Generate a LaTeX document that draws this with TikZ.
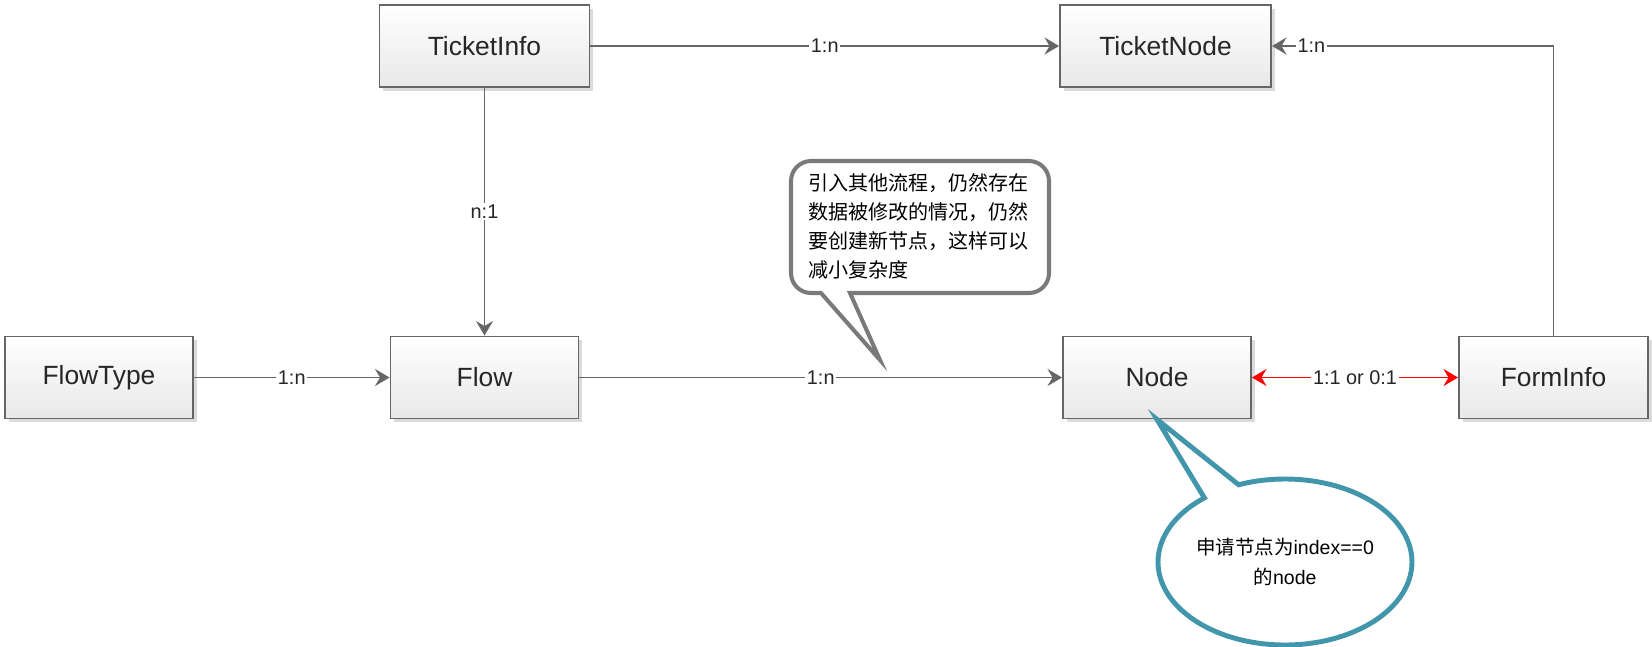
\documentclass[tikz,border=0pt]{standalone}
\usepackage{fontspec}
\setmainfont{Liberation Sans}
\newfontfamily\cjk{Noto Sans CJK SC}
\usetikzlibrary{positioning,arrows.meta,shadows,shapes.callouts}
\definecolor{boxline}{HTML}{666666}
\definecolor{noteline}{HTML}{7A7A7A}
\definecolor{bubbleteal}{RGB}{66,150,171}
\tikzset{
  entity/.style={rectangle, draw=boxline, line width=1.1pt, top color=white, bottom color=black!9,
    minimum height=1.64cm, inner sep=0pt, font=\fontsize{15}{18}\selectfont, text=black!85,
    drop shadow={shadow xshift=0.07cm, shadow yshift=-0.07cm, fill=black!14, opacity=1}},
  rel/.style={draw=boxline, line width=1.1pt, -{Stealth[length=2.9mm, width=3.4mm, inset=1mm]}},
  both/.style={draw=red, line width=1.1pt,
    {Stealth[length=2.9mm, width=3.4mm, inset=1mm]}-{Stealth[length=2.9mm, width=3.4mm, inset=1mm]}},
  lbl/.style={fill=white, inner sep=1pt, text=black!85, font=\fontsize{11.3}{13}\selectfont},
  note/.style={draw=noteline, line width=2.3pt, fill=white},
  bubble/.style={ellipse callout, draw=bubbleteal, line width=2.8pt, fill=white, inner sep=0pt,
    minimum width=5.08cm, minimum height=3.32cm, callout pointer arc=18, align=center,
    font=\fontsize{11.1}{17}\selectfont}
}

\begin{document}
\begin{tikzpicture}
  \useasboundingbox (0,0) rectangle (33.04,-12.92);

  % Entities
  \node[entity, minimum width=4.2cm] (ticketInfo) at (9.69,-0.92) {TicketInfo};
  \node[entity, minimum width=4.22cm] (ticketNode) at (23.31,-0.92) {TicketNode};
  \node[entity, minimum width=3.76cm] (flowType) at (1.98,-7.55) {FlowType};
  \node[entity, minimum width=3.76cm] (flow) at (9.69,-7.55) {Flow};
  \node[entity, minimum width=3.76cm] (flowNode) at (23.14,-7.55) {Node};
  \node[entity, minimum width=3.78cm] (formInfo) at (31.07,-7.55) {FormInfo};

  % Relations
  \foreach \from/\to/\card in {ticketInfo/ticketNode/1:n, ticketInfo/flow/n:1,
                               flowType/flow/1:n, flow/flowNode/1:n}{
    \draw[rel] (\from) -- node[lbl] {\card} (\to);
  }
  \draw[rel] (formInfo.north) |- node[lbl, pos=0.93] {1:n} (ticketNode.east);
  \draw[both] (flowNode) -- node[lbl] {1:1 or 0:1} (formInfo);

  % Note on the Flow--Node relation
  \draw[note] (17.0,-5.86) -- (20.58,-5.86) arc (270:360:0.4) -- (20.98,-3.62) arc (0:90:0.4)
    -- (16.22,-3.22) arc (90:180:0.4) -- (15.82,-5.46) arc (180:270:0.4)
    -- (16.42,-5.86) -- (17.6,-7.2) -- cycle;
  \node[anchor=north west, inner sep=0pt, align=left, font=\cjk\fontsize{11.4}{16.5}\selectfont] (note1)
    at (16.16,-3.46) {引入其他流程，仍然存在\\数据被修改的情况，仍然\\要创建新节点，这样可以\\减小复杂度};

  % Bubble on Node
  \node[bubble, callout absolute pointer={(flowNode.south)}] (note2) at (25.7,-11.24)
    {{\cjk 申请节点为}index==0\\{\cjk 的}node};
\end{tikzpicture}
\end{document}
